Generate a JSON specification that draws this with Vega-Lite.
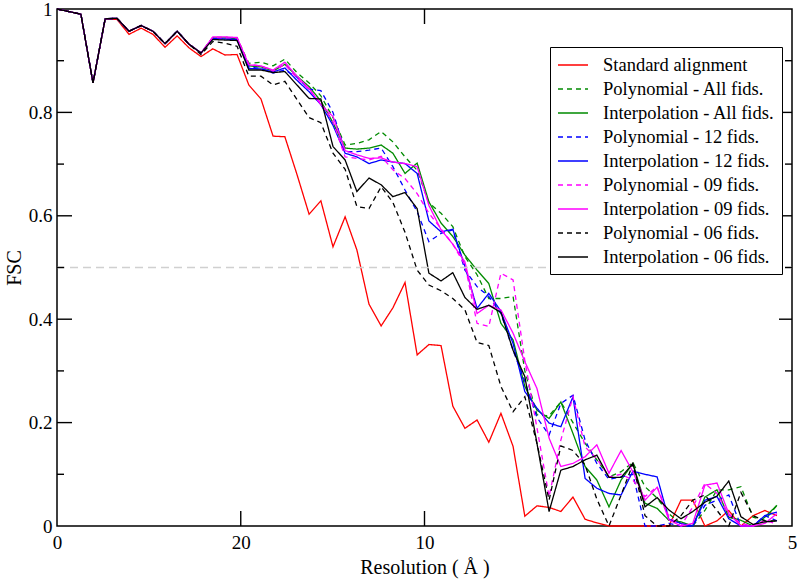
{
"$schema":"https://vega.github.io/schema/vega-lite/v6.json",
"width":735,"height":517,"autosize":"none",
"padding":{"left":57,"top":9,"right":8,"bottom":56},
"background":"white",
"config":{
"view":{"stroke":"black","strokeWidth":1.5},
"font":"Liberation Serif",
"axis":{"labelFont":"Liberation Serif","titleFont":"Liberation Serif","labelFontSize":19,"titleFontSize":20,"titleFontWeight":"normal","labelColor":"black","titleColor":"black","domain":false,"grid":false,"ticks":false,"tickSize":0},
"legend":{"strokeColor":"black","fillColor":"white","padding":7,"labelFont":"Liberation Serif","labelFontSize":18.5,"labelColor":"black","symbolType":"M-1,0H2","symbolSize":400,"symbolStrokeWidth":1.3,"labelOffset":24,"rowPadding":3,"cornerRadius":0,"labelLimit":400}
},
"datasets":{
"half":[{"f":0,"v":0.5},{"f":0.2,"v":0.5}],
"ymaj":[{"t":0.2},{"t":0.4},{"t":0.6},{"t":0.8}],
"ymin":[{"t":0.1},{"t":0.3},{"t":0.5},{"t":0.7},{"t":0.9}],
"xmaj":[{"t":0.05},{"t":0.1}],
"names":[{"s":"S","name":"Standard alignment"},{"s":"PA","name":"Polynomial - All fids."},{"s":"IA","name":"Interpolation - All fids."},{"s":"P12","name":"Polynomial - 12 fids."},{"s":"I12","name":"Interpolation - 12 fids."},{"s":"P09","name":"Polynomial - 09 fids."},{"s":"I09","name":"Interpolation - 09 fids."},{"s":"P06","name":"Polynomial - 06 fids."},{"s":"I06","name":"Interpolation - 06 fids."}],
"fsc":[
{"s":"S","f":0,"v":1},{"s":"S","f":0.0033,"v":0.995},{"s":"S","f":0.0065,"v":0.99},{"s":"S","f":0.0098,"v":0.857},{"s":"S","f":0.0131,"v":0.98},{"s":"S","f":0.0163,"v":0.98},{"s":"S","f":0.0196,"v":0.951},{"s":"S","f":0.0229,"v":0.963},{"s":"S","f":0.0261,"v":0.951},{"s":"S","f":0.0294,"v":0.926},{"s":"S","f":0.0327,"v":0.948},{"s":"S","f":0.0359,"v":0.925},{"s":"S","f":0.0392,"v":0.908},{"s":"S","f":0.0424,"v":0.923},{"s":"S","f":0.0457,"v":0.911},{"s":"S","f":0.049,"v":0.912},{"s":"S","f":0.0522,"v":0.853},{"s":"S","f":0.0555,"v":0.826},{"s":"S","f":0.0588,"v":0.754},{"s":"S","f":0.062,"v":0.753},{"s":"S","f":0.0653,"v":0.68},{"s":"S","f":0.0686,"v":0.603},{"s":"S","f":0.0718,"v":0.629},{"s":"S","f":0.0751,"v":0.54},{"s":"S","f":0.0784,"v":0.598},{"s":"S","f":0.0816,"v":0.534},{"s":"S","f":0.0849,"v":0.429},{"s":"S","f":0.0882,"v":0.387},{"s":"S","f":0.0914,"v":0.422},{"s":"S","f":0.0947,"v":0.471},{"s":"S","f":0.098,"v":0.331},{"s":"S","f":0.1012,"v":0.351},{"s":"S","f":0.1045,"v":0.349},{"s":"S","f":0.1077,"v":0.232},{"s":"S","f":0.111,"v":0.189},{"s":"S","f":0.1143,"v":0.205},{"s":"S","f":0.1175,"v":0.162},{"s":"S","f":0.1208,"v":0.218},{"s":"S","f":0.1241,"v":0.154},{"s":"S","f":0.1273,"v":0.019},{"s":"S","f":0.1306,"v":0.039},{"s":"S","f":0.1339,"v":0.036},{"s":"S","f":0.1371,"v":0.028},{"s":"S","f":0.1404,"v":0.056},{"s":"S","f":0.1437,"v":0.013},{"s":"S","f":0.1469,"v":0.006},{"s":"S","f":0.1502,"v":0},{"s":"S","f":0.1535,"v":0},{"s":"S","f":0.1567,"v":0},{"s":"S","f":0.16,"v":0},{"s":"S","f":0.1633,"v":0},{"s":"S","f":0.1665,"v":0},{"s":"S","f":0.1698,"v":0.05},{"s":"S","f":0.173,"v":0.05},{"s":"S","f":0.1763,"v":0},{"s":"S","f":0.1796,"v":0.01},{"s":"S","f":0.1828,"v":0.03},{"s":"S","f":0.1861,"v":0},{"s":"S","f":0.1894,"v":0.02},{"s":"S","f":0.1926,"v":0.03},{"s":"S","f":0.1959,"v":0.02},
{"s":"PA","f":0,"v":1},{"s":"PA","f":0.0033,"v":0.995},{"s":"PA","f":0.0065,"v":0.99},{"s":"PA","f":0.0098,"v":0.857},{"s":"PA","f":0.0131,"v":0.981},{"s":"PA","f":0.0163,"v":0.982},{"s":"PA","f":0.0196,"v":0.957},{"s":"PA","f":0.0229,"v":0.968},{"s":"PA","f":0.0261,"v":0.957},{"s":"PA","f":0.0294,"v":0.933},{"s":"PA","f":0.0327,"v":0.957},{"s":"PA","f":0.0359,"v":0.932},{"s":"PA","f":0.0392,"v":0.915},{"s":"PA","f":0.0424,"v":0.945},{"s":"PA","f":0.0457,"v":0.945},{"s":"PA","f":0.049,"v":0.944},{"s":"PA","f":0.0522,"v":0.895},{"s":"PA","f":0.0555,"v":0.897},{"s":"PA","f":0.0588,"v":0.89},{"s":"PA","f":0.062,"v":0.903},{"s":"PA","f":0.0653,"v":0.877},{"s":"PA","f":0.0686,"v":0.857},{"s":"PA","f":0.0718,"v":0.832},{"s":"PA","f":0.0751,"v":0.79},{"s":"PA","f":0.0784,"v":0.737},{"s":"PA","f":0.0816,"v":0.74},{"s":"PA","f":0.0849,"v":0.747},{"s":"PA","f":0.0882,"v":0.763},{"s":"PA","f":0.0914,"v":0.743},{"s":"PA","f":0.0947,"v":0.714},{"s":"PA","f":0.098,"v":0.688},{"s":"PA","f":0.1012,"v":0.625},{"s":"PA","f":0.1045,"v":0.605},{"s":"PA","f":0.1077,"v":0.579},{"s":"PA","f":0.111,"v":0.521},{"s":"PA","f":0.1143,"v":0.486},{"s":"PA","f":0.1175,"v":0.44},{"s":"PA","f":0.1208,"v":0.44},{"s":"PA","f":0.1241,"v":0.444},{"s":"PA","f":0.1273,"v":0.3},{"s":"PA","f":0.1306,"v":0.215},{"s":"PA","f":0.1339,"v":0.213},{"s":"PA","f":0.1371,"v":0.24},{"s":"PA","f":0.1404,"v":0.2},{"s":"PA","f":0.1437,"v":0.16},{"s":"PA","f":0.1469,"v":0.128},{"s":"PA","f":0.1502,"v":0.095},{"s":"PA","f":0.1535,"v":0.105},{"s":"PA","f":0.1567,"v":0.123},{"s":"PA","f":0.16,"v":0.076},{"s":"PA","f":0.1633,"v":0.054},{"s":"PA","f":0.1665,"v":0.024},{"s":"PA","f":0.1698,"v":0.004},{"s":"PA","f":0.173,"v":0},{"s":"PA","f":0.1763,"v":0.03},{"s":"PA","f":0.1796,"v":0.07},{"s":"PA","f":0.1828,"v":0.07},{"s":"PA","f":0.1861,"v":0.076},{"s":"PA","f":0.1894,"v":0.017},{"s":"PA","f":0.1926,"v":0.011},{"s":"PA","f":0.1959,"v":0.04},
{"s":"IA","f":0,"v":1},{"s":"IA","f":0.0033,"v":0.995},{"s":"IA","f":0.0065,"v":0.99},{"s":"IA","f":0.0098,"v":0.857},{"s":"IA","f":0.0131,"v":0.981},{"s":"IA","f":0.0163,"v":0.982},{"s":"IA","f":0.0196,"v":0.957},{"s":"IA","f":0.0229,"v":0.968},{"s":"IA","f":0.0261,"v":0.957},{"s":"IA","f":0.0294,"v":0.933},{"s":"IA","f":0.0327,"v":0.957},{"s":"IA","f":0.0359,"v":0.932},{"s":"IA","f":0.0392,"v":0.915},{"s":"IA","f":0.0424,"v":0.944},{"s":"IA","f":0.0457,"v":0.944},{"s":"IA","f":0.049,"v":0.943},{"s":"IA","f":0.0522,"v":0.89},{"s":"IA","f":0.0555,"v":0.888},{"s":"IA","f":0.0588,"v":0.88},{"s":"IA","f":0.062,"v":0.893},{"s":"IA","f":0.0653,"v":0.87},{"s":"IA","f":0.0686,"v":0.85},{"s":"IA","f":0.0718,"v":0.822},{"s":"IA","f":0.0751,"v":0.78},{"s":"IA","f":0.0784,"v":0.731},{"s":"IA","f":0.0816,"v":0.729},{"s":"IA","f":0.0849,"v":0.731},{"s":"IA","f":0.0882,"v":0.737},{"s":"IA","f":0.0914,"v":0.721},{"s":"IA","f":0.0947,"v":0.682},{"s":"IA","f":0.098,"v":0.702},{"s":"IA","f":0.1012,"v":0.627},{"s":"IA","f":0.1045,"v":0.586},{"s":"IA","f":0.1077,"v":0.56},{"s":"IA","f":0.111,"v":0.524},{"s":"IA","f":0.1143,"v":0.495},{"s":"IA","f":0.1175,"v":0.469},{"s":"IA","f":0.1208,"v":0.392},{"s":"IA","f":0.1241,"v":0.36},{"s":"IA","f":0.1273,"v":0.27},{"s":"IA","f":0.1306,"v":0.224},{"s":"IA","f":0.1339,"v":0.208},{"s":"IA","f":0.1371,"v":0.24},{"s":"IA","f":0.1404,"v":0.179},{"s":"IA","f":0.1437,"v":0.115},{"s":"IA","f":0.1469,"v":0.089},{"s":"IA","f":0.1502,"v":0.037},{"s":"IA","f":0.1535,"v":0.089},{"s":"IA","f":0.1567,"v":0.121},{"s":"IA","f":0.16,"v":0.044},{"s":"IA","f":0.1633,"v":0.034},{"s":"IA","f":0.1665,"v":0.011},{"s":"IA","f":0.1698,"v":0.008},{"s":"IA","f":0.173,"v":0},{"s":"IA","f":0.1763,"v":0.056},{"s":"IA","f":0.1796,"v":0.07},{"s":"IA","f":0.1828,"v":0.017},{"s":"IA","f":0.1861,"v":0.011},{"s":"IA","f":0.1894,"v":0},{"s":"IA","f":0.1926,"v":0.017},{"s":"IA","f":0.1959,"v":0.04},
{"s":"P12","f":0,"v":1},{"s":"P12","f":0.0033,"v":0.995},{"s":"P12","f":0.0065,"v":0.99},{"s":"P12","f":0.0098,"v":0.857},{"s":"P12","f":0.0131,"v":0.981},{"s":"P12","f":0.0163,"v":0.982},{"s":"P12","f":0.0196,"v":0.957},{"s":"P12","f":0.0229,"v":0.968},{"s":"P12","f":0.0261,"v":0.957},{"s":"P12","f":0.0294,"v":0.933},{"s":"P12","f":0.0327,"v":0.957},{"s":"P12","f":0.0359,"v":0.932},{"s":"P12","f":0.0392,"v":0.915},{"s":"P12","f":0.0424,"v":0.943},{"s":"P12","f":0.0457,"v":0.942},{"s":"P12","f":0.049,"v":0.941},{"s":"P12","f":0.0522,"v":0.888},{"s":"P12","f":0.0555,"v":0.885},{"s":"P12","f":0.0588,"v":0.876},{"s":"P12","f":0.062,"v":0.882},{"s":"P12","f":0.0653,"v":0.868},{"s":"P12","f":0.0686,"v":0.845},{"s":"P12","f":0.0718,"v":0.842},{"s":"P12","f":0.0751,"v":0.8},{"s":"P12","f":0.0784,"v":0.724},{"s":"P12","f":0.0816,"v":0.724},{"s":"P12","f":0.0849,"v":0.727},{"s":"P12","f":0.0882,"v":0.731},{"s":"P12","f":0.0914,"v":0.695},{"s":"P12","f":0.0947,"v":0.65},{"s":"P12","f":0.098,"v":0.608},{"s":"P12","f":0.1012,"v":0.55},{"s":"P12","f":0.1045,"v":0.566},{"s":"P12","f":0.1077,"v":0.573},{"s":"P12","f":0.111,"v":0.495},{"s":"P12","f":0.1143,"v":0.463},{"s":"P12","f":0.1175,"v":0.444},{"s":"P12","f":0.1208,"v":0.411},{"s":"P12","f":0.1241,"v":0.34},{"s":"P12","f":0.1273,"v":0.28},{"s":"P12","f":0.1306,"v":0.21},{"s":"P12","f":0.1339,"v":0.176},{"s":"P12","f":0.1371,"v":0.237},{"s":"P12","f":0.1404,"v":0.253},{"s":"P12","f":0.1437,"v":0.166},{"s":"P12","f":0.1469,"v":0.121},{"s":"P12","f":0.1502,"v":0.09},{"s":"P12","f":0.1535,"v":0.095},{"s":"P12","f":0.1567,"v":0.1},{"s":"P12","f":0.16,"v":0},{"s":"P12","f":0.1633,"v":0},{"s":"P12","f":0.1665,"v":0.005},{"s":"P12","f":0.1698,"v":0},{"s":"P12","f":0.173,"v":0},{"s":"P12","f":0.1763,"v":0.04},{"s":"P12","f":0.1796,"v":0.05},{"s":"P12","f":0.1828,"v":0.06},{"s":"P12","f":0.1861,"v":0},{"s":"P12","f":0.1894,"v":0},{"s":"P12","f":0.1926,"v":0.02},{"s":"P12","f":0.1959,"v":0.01},
{"s":"I12","f":0,"v":1},{"s":"I12","f":0.0033,"v":0.995},{"s":"I12","f":0.0065,"v":0.99},{"s":"I12","f":0.0098,"v":0.857},{"s":"I12","f":0.0131,"v":0.981},{"s":"I12","f":0.0163,"v":0.982},{"s":"I12","f":0.0196,"v":0.957},{"s":"I12","f":0.0229,"v":0.968},{"s":"I12","f":0.0261,"v":0.957},{"s":"I12","f":0.0294,"v":0.933},{"s":"I12","f":0.0327,"v":0.957},{"s":"I12","f":0.0359,"v":0.932},{"s":"I12","f":0.0392,"v":0.915},{"s":"I12","f":0.0424,"v":0.943},{"s":"I12","f":0.0457,"v":0.942},{"s":"I12","f":0.049,"v":0.941},{"s":"I12","f":0.0522,"v":0.885},{"s":"I12","f":0.0555,"v":0.884},{"s":"I12","f":0.0588,"v":0.878},{"s":"I12","f":0.062,"v":0.886},{"s":"I12","f":0.0653,"v":0.862},{"s":"I12","f":0.0686,"v":0.84},{"s":"I12","f":0.0718,"v":0.815},{"s":"I12","f":0.0751,"v":0.775},{"s":"I12","f":0.0784,"v":0.721},{"s":"I12","f":0.0816,"v":0.714},{"s":"I12","f":0.0849,"v":0.701},{"s":"I12","f":0.0882,"v":0.708},{"s":"I12","f":0.0914,"v":0.704},{"s":"I12","f":0.0947,"v":0.701},{"s":"I12","f":0.098,"v":0.682},{"s":"I12","f":0.1012,"v":0.59},{"s":"I12","f":0.1045,"v":0.569},{"s":"I12","f":0.1077,"v":0.574},{"s":"I12","f":0.111,"v":0.502},{"s":"I12","f":0.1143,"v":0.421},{"s":"I12","f":0.1175,"v":0.45},{"s":"I12","f":0.1208,"v":0.415},{"s":"I12","f":0.1241,"v":0.353},{"s":"I12","f":0.1273,"v":0.26},{"s":"I12","f":0.1306,"v":0.228},{"s":"I12","f":0.1339,"v":0.199},{"s":"I12","f":0.1371,"v":0.192},{"s":"I12","f":0.1404,"v":0.25},{"s":"I12","f":0.1437,"v":0.092},{"s":"I12","f":0.1469,"v":0.073},{"s":"I12","f":0.1502,"v":0.063},{"s":"I12","f":0.1535,"v":0.06},{"s":"I12","f":0.1567,"v":0.106},{"s":"I12","f":0.16,"v":0.1},{"s":"I12","f":0.1633,"v":0.095},{"s":"I12","f":0.1665,"v":0.013},{"s":"I12","f":0.1698,"v":0.005},{"s":"I12","f":0.173,"v":0},{"s":"I12","f":0.1763,"v":0.05},{"s":"I12","f":0.1796,"v":0.057},{"s":"I12","f":0.1828,"v":0.014},{"s":"I12","f":0.1861,"v":0},{"s":"I12","f":0.1894,"v":0},{"s":"I12","f":0.1926,"v":0.02},{"s":"I12","f":0.1959,"v":0.027},
{"s":"P09","f":0,"v":1},{"s":"P09","f":0.0033,"v":0.995},{"s":"P09","f":0.0065,"v":0.99},{"s":"P09","f":0.0098,"v":0.857},{"s":"P09","f":0.0131,"v":0.981},{"s":"P09","f":0.0163,"v":0.982},{"s":"P09","f":0.0196,"v":0.957},{"s":"P09","f":0.0229,"v":0.968},{"s":"P09","f":0.0261,"v":0.957},{"s":"P09","f":0.0294,"v":0.933},{"s":"P09","f":0.0327,"v":0.957},{"s":"P09","f":0.0359,"v":0.932},{"s":"P09","f":0.0392,"v":0.915},{"s":"P09","f":0.0424,"v":0.945},{"s":"P09","f":0.0457,"v":0.944},{"s":"P09","f":0.049,"v":0.944},{"s":"P09","f":0.0522,"v":0.893},{"s":"P09","f":0.0555,"v":0.89},{"s":"P09","f":0.0588,"v":0.88},{"s":"P09","f":0.062,"v":0.893},{"s":"P09","f":0.0653,"v":0.866},{"s":"P09","f":0.0686,"v":0.844},{"s":"P09","f":0.0718,"v":0.818},{"s":"P09","f":0.0751,"v":0.782},{"s":"P09","f":0.0784,"v":0.714},{"s":"P09","f":0.0816,"v":0.711},{"s":"P09","f":0.0849,"v":0.708},{"s":"P09","f":0.0882,"v":0.715},{"s":"P09","f":0.0914,"v":0.689},{"s":"P09","f":0.0947,"v":0.672},{"s":"P09","f":0.098,"v":0.643},{"s":"P09","f":0.1012,"v":0.605},{"s":"P09","f":0.1045,"v":0.575},{"s":"P09","f":0.1077,"v":0.545},{"s":"P09","f":0.111,"v":0.505},{"s":"P09","f":0.1143,"v":0.392},{"s":"P09","f":0.1175,"v":0.386},{"s":"P09","f":0.1208,"v":0.489},{"s":"P09","f":0.1241,"v":0.476},{"s":"P09","f":0.1273,"v":0.32},{"s":"P09","f":0.1306,"v":0.19},{"s":"P09","f":0.1339,"v":0.057},{"s":"P09","f":0.1371,"v":0.166},{"s":"P09","f":0.1404,"v":0.25},{"s":"P09","f":0.1437,"v":0.153},{"s":"P09","f":0.1469,"v":0.13},{"s":"P09","f":0.1502,"v":0.095},{"s":"P09","f":0.1535,"v":0.1},{"s":"P09","f":0.1567,"v":0.089},{"s":"P09","f":0.16,"v":0.057},{"s":"P09","f":0.1633,"v":0.076},{"s":"P09","f":0.1665,"v":0.018},{"s":"P09","f":0.1698,"v":0},{"s":"P09","f":0.173,"v":0.037},{"s":"P09","f":0.1763,"v":0.082},{"s":"P09","f":0.1796,"v":0.063},{"s":"P09","f":0.1828,"v":0.021},{"s":"P09","f":0.1861,"v":0.005},{"s":"P09","f":0.1894,"v":0},{"s":"P09","f":0.1926,"v":0.011},{"s":"P09","f":0.1959,"v":0.004},
{"s":"I09","f":0,"v":1},{"s":"I09","f":0.0033,"v":0.995},{"s":"I09","f":0.0065,"v":0.99},{"s":"I09","f":0.0098,"v":0.857},{"s":"I09","f":0.0131,"v":0.981},{"s":"I09","f":0.0163,"v":0.982},{"s":"I09","f":0.0196,"v":0.957},{"s":"I09","f":0.0229,"v":0.968},{"s":"I09","f":0.0261,"v":0.957},{"s":"I09","f":0.0294,"v":0.933},{"s":"I09","f":0.0327,"v":0.957},{"s":"I09","f":0.0359,"v":0.932},{"s":"I09","f":0.0392,"v":0.915},{"s":"I09","f":0.0424,"v":0.946},{"s":"I09","f":0.0457,"v":0.946},{"s":"I09","f":0.049,"v":0.945},{"s":"I09","f":0.0522,"v":0.892},{"s":"I09","f":0.0555,"v":0.89},{"s":"I09","f":0.0588,"v":0.882},{"s":"I09","f":0.062,"v":0.897},{"s":"I09","f":0.0653,"v":0.87},{"s":"I09","f":0.0686,"v":0.846},{"s":"I09","f":0.0718,"v":0.815},{"s":"I09","f":0.0751,"v":0.792},{"s":"I09","f":0.0784,"v":0.726},{"s":"I09","f":0.0816,"v":0.718},{"s":"I09","f":0.0849,"v":0.711},{"s":"I09","f":0.0882,"v":0.712},{"s":"I09","f":0.0914,"v":0.704},{"s":"I09","f":0.0947,"v":0.701},{"s":"I09","f":0.098,"v":0.695},{"s":"I09","f":0.1012,"v":0.62},{"s":"I09","f":0.1045,"v":0.573},{"s":"I09","f":0.1077,"v":0.545},{"s":"I09","f":0.111,"v":0.511},{"s":"I09","f":0.1143,"v":0.411},{"s":"I09","f":0.1175,"v":0.427},{"s":"I09","f":0.1208,"v":0.418},{"s":"I09","f":0.1241,"v":0.373},{"s":"I09","f":0.1273,"v":0.318},{"s":"I09","f":0.1306,"v":0.266},{"s":"I09","f":0.1339,"v":0.17},{"s":"I09","f":0.1371,"v":0.115},{"s":"I09","f":0.1404,"v":0.121},{"s":"I09","f":0.1437,"v":0.134},{"s":"I09","f":0.1469,"v":0.157},{"s":"I09","f":0.1502,"v":0.102},{"s":"I09","f":0.1535,"v":0.146},{"s":"I09","f":0.1567,"v":0.105},{"s":"I09","f":0.16,"v":0.05},{"s":"I09","f":0.1633,"v":0.075},{"s":"I09","f":0.1665,"v":0.012},{"s":"I09","f":0.1698,"v":0},{"s":"I09","f":0.173,"v":0.005},{"s":"I09","f":0.1763,"v":0.079},{"s":"I09","f":0.1796,"v":0.083},{"s":"I09","f":0.1828,"v":0.024},{"s":"I09","f":0.1861,"v":0},{"s":"I09","f":0.1894,"v":0},{"s":"I09","f":0.1926,"v":0.005},{"s":"I09","f":0.1959,"v":0.024},
{"s":"P06","f":0,"v":1},{"s":"P06","f":0.0033,"v":0.995},{"s":"P06","f":0.0065,"v":0.99},{"s":"P06","f":0.0098,"v":0.857},{"s":"P06","f":0.0131,"v":0.981},{"s":"P06","f":0.0163,"v":0.982},{"s":"P06","f":0.0196,"v":0.957},{"s":"P06","f":0.0229,"v":0.968},{"s":"P06","f":0.0261,"v":0.957},{"s":"P06","f":0.0294,"v":0.933},{"s":"P06","f":0.0327,"v":0.957},{"s":"P06","f":0.0359,"v":0.932},{"s":"P06","f":0.0392,"v":0.912},{"s":"P06","f":0.0424,"v":0.937},{"s":"P06","f":0.0457,"v":0.934},{"s":"P06","f":0.049,"v":0.928},{"s":"P06","f":0.0522,"v":0.87},{"s":"P06","f":0.0555,"v":0.87},{"s":"P06","f":0.0588,"v":0.853},{"s":"P06","f":0.062,"v":0.86},{"s":"P06","f":0.0653,"v":0.825},{"s":"P06","f":0.0686,"v":0.79},{"s":"P06","f":0.0718,"v":0.78},{"s":"P06","f":0.0751,"v":0.721},{"s":"P06","f":0.0784,"v":0.69},{"s":"P06","f":0.0816,"v":0.618},{"s":"P06","f":0.0849,"v":0.614},{"s":"P06","f":0.0882,"v":0.656},{"s":"P06","f":0.0914,"v":0.626},{"s":"P06","f":0.0947,"v":0.568},{"s":"P06","f":0.098,"v":0.495},{"s":"P06","f":0.1012,"v":0.466},{"s":"P06","f":0.1045,"v":0.455},{"s":"P06","f":0.1077,"v":0.44},{"s":"P06","f":0.111,"v":0.418},{"s":"P06","f":0.1143,"v":0.355},{"s":"P06","f":0.1175,"v":0.349},{"s":"P06","f":0.1208,"v":0.27},{"s":"P06","f":0.1241,"v":0.221},{"s":"P06","f":0.1273,"v":0.25},{"s":"P06","f":0.1306,"v":0.16},{"s":"P06","f":0.1339,"v":0.05},{"s":"P06","f":0.1371,"v":0.155},{"s":"P06","f":0.1404,"v":0.146},{"s":"P06","f":0.1437,"v":0.118},{"s":"P06","f":0.1469,"v":0.052},{"s":"P06","f":0.1502,"v":0},{"s":"P06","f":0.1535,"v":0.06},{"s":"P06","f":0.1567,"v":0.12},{"s":"P06","f":0.16,"v":0.02},{"s":"P06","f":0.1633,"v":0},{"s":"P06","f":0.1665,"v":0},{"s":"P06","f":0.1698,"v":0.02},{"s":"P06","f":0.173,"v":0.05},{"s":"P06","f":0.1763,"v":0.06},{"s":"P06","f":0.1796,"v":0.03},{"s":"P06","f":0.1828,"v":0},{"s":"P06","f":0.1861,"v":0.065},{"s":"P06","f":0.1894,"v":0.02},{"s":"P06","f":0.1926,"v":0.01},{"s":"P06","f":0.1959,"v":0.01},
{"s":"I06","f":0,"v":1},{"s":"I06","f":0.0033,"v":0.995},{"s":"I06","f":0.0065,"v":0.99},{"s":"I06","f":0.0098,"v":0.857},{"s":"I06","f":0.0131,"v":0.981},{"s":"I06","f":0.0163,"v":0.982},{"s":"I06","f":0.0196,"v":0.957},{"s":"I06","f":0.0229,"v":0.968},{"s":"I06","f":0.0261,"v":0.957},{"s":"I06","f":0.0294,"v":0.933},{"s":"I06","f":0.0327,"v":0.957},{"s":"I06","f":0.0359,"v":0.932},{"s":"I06","f":0.0392,"v":0.915},{"s":"I06","f":0.0424,"v":0.941},{"s":"I06","f":0.0457,"v":0.94},{"s":"I06","f":0.049,"v":0.939},{"s":"I06","f":0.0522,"v":0.882},{"s":"I06","f":0.0555,"v":0.882},{"s":"I06","f":0.0588,"v":0.877},{"s":"I06","f":0.062,"v":0.879},{"s":"I06","f":0.0653,"v":0.853},{"s":"I06","f":0.0686,"v":0.827},{"s":"I06","f":0.0718,"v":0.826},{"s":"I06","f":0.0751,"v":0.734},{"s":"I06","f":0.0784,"v":0.708},{"s":"I06","f":0.0816,"v":0.647},{"s":"I06","f":0.0849,"v":0.673},{"s":"I06","f":0.0882,"v":0.66},{"s":"I06","f":0.0914,"v":0.637},{"s":"I06","f":0.0947,"v":0.645},{"s":"I06","f":0.098,"v":0.614},{"s":"I06","f":0.1012,"v":0.489},{"s":"I06","f":0.1045,"v":0.474},{"s":"I06","f":0.1077,"v":0.49},{"s":"I06","f":0.111,"v":0.442},{"s":"I06","f":0.1143,"v":0.419},{"s":"I06","f":0.1175,"v":0.427},{"s":"I06","f":0.1208,"v":0.413},{"s":"I06","f":0.1241,"v":0.34},{"s":"I06","f":0.1273,"v":0.289},{"s":"I06","f":0.1306,"v":0.16},{"s":"I06","f":0.1339,"v":0.028},{"s":"I06","f":0.1371,"v":0.108},{"s":"I06","f":0.1404,"v":0.115},{"s":"I06","f":0.1437,"v":0.128},{"s":"I06","f":0.1469,"v":0.137},{"s":"I06","f":0.1502,"v":0.094},{"s":"I06","f":0.1535,"v":0.094},{"s":"I06","f":0.1567,"v":0.121},{"s":"I06","f":0.16,"v":0.037},{"s":"I06","f":0.1633,"v":0.055},{"s":"I06","f":0.1665,"v":0.031},{"s":"I06","f":0.1698,"v":0.014},{"s":"I06","f":0.173,"v":0.028},{"s":"I06","f":0.1763,"v":0.046},{"s":"I06","f":0.1796,"v":0.058},{"s":"I06","f":0.1828,"v":0.087},{"s":"I06","f":0.1861,"v":0.018},{"s":"I06","f":0.1894,"v":0.003},{"s":"I06","f":0.1926,"v":0.008},{"s":"I06","f":0.1959,"v":0.01}
]},
"layer":[
{"data":{"name":"fsc"},
"transform":[{"lookup":"s","from":{"data":{"name":"names"},"key":"s","fields":["name"]}}],
"mark":{"type":"line","strokeWidth":1.3},
"encoding":{
"x":{"field":"f","type":"quantitative","scale":{"domain":[0,0.2],"nice":false},"axis":{"orient":"bottom","values":[0,0.05,0.1,0.2],"labelExpr":"datum.value == 0 ? '0' : format(1/datum.value, '.0f')","labelFlush":false,"labelPadding":7,"title":"Resolution ( Å )","titlePadding":5}},
"y":{"field":"v","type":"quantitative","scale":{"domain":[0,1],"nice":false},"axis":{"orient":"left","values":[0,0.2,0.4,0.6,0.8,1],"labelExpr":"datum.value == 0 ? '0' : datum.value == 1 ? '1' : format(datum.value, '.1f')","labelPadding":5,"title":"FSC","titlePadding":4}},
"color":{"field":"name","type":"nominal","scale":{"domain":["Standard alignment","Polynomial - All fids.","Interpolation - All fids.","Polynomial - 12 fids.","Interpolation - 12 fids.","Polynomial - 09 fids.","Interpolation - 09 fids.","Polynomial - 06 fids.","Interpolation - 06 fids."],"range":["#ff0000","#008b00","#008b00","#0000ff","#0000ff","#ff00ff","#ff00ff","#000000","#000000"]},"legend":{"title":null,"orient":"none","legendX":493,"legendY":38}},
"strokeDash":{"field":"name","type":"nominal","scale":{"domain":["Standard alignment","Polynomial - All fids.","Interpolation - All fids.","Polynomial - 12 fids.","Interpolation - 12 fids.","Polynomial - 09 fids.","Interpolation - 09 fids.","Polynomial - 06 fids.","Interpolation - 06 fids."],"range":[[1,0],[5,4],[1,0],[5,4],[1,0],[5,4],[1,0],[5,4],[1,0]]},"legend":{"title":null,"orient":"none","legendX":493,"legendY":38}}
}},
{"data":{"name":"half"},"mark":{"type":"line","color":"#d0d0d0","strokeDash":[8,5],"strokeWidth":1.5},
"encoding":{"x":{"field":"f","type":"quantitative"},"y":{"field":"v","type":"quantitative"}}},
{"data":{"name":"ymaj"},"mark":{"type":"point","shape":"M0,0H2","size":225,"filled":false,"color":"black","strokeWidth":1.4,"opacity":1},
"encoding":{"x":{"datum":0,"type":"quantitative"},"y":{"field":"t","type":"quantitative"}}},
{"data":{"name":"ymin"},"mark":{"type":"point","shape":"M0,0H2","size":49,"filled":false,"color":"black","strokeWidth":1.4,"opacity":1},
"encoding":{"x":{"datum":0,"type":"quantitative"},"y":{"field":"t","type":"quantitative"}}},
{"data":{"name":"ymaj"},"mark":{"type":"point","shape":"M0,0H-2","size":169,"filled":false,"color":"black","strokeWidth":1.4,"opacity":1},
"encoding":{"x":{"datum":0.2,"type":"quantitative"},"y":{"field":"t","type":"quantitative"}}},
{"data":{"name":"ymin"},"mark":{"type":"point","shape":"M0,0H-2","size":49,"filled":false,"color":"black","strokeWidth":1.4,"opacity":1},
"encoding":{"x":{"datum":0.2,"type":"quantitative"},"y":{"field":"t","type":"quantitative"}}},
{"data":{"name":"xmaj"},"mark":{"type":"point","shape":"M0,0V-2","size":225,"filled":false,"color":"black","strokeWidth":1.4,"opacity":1},
"encoding":{"y":{"datum":0,"type":"quantitative"},"x":{"field":"t","type":"quantitative"}}},
{"data":{"name":"xmaj"},"mark":{"type":"point","shape":"M0,0V2","size":225,"filled":false,"color":"black","strokeWidth":1.4,"opacity":1},
"encoding":{"y":{"datum":1,"type":"quantitative"},"x":{"field":"t","type":"quantitative"}}}
]
}
